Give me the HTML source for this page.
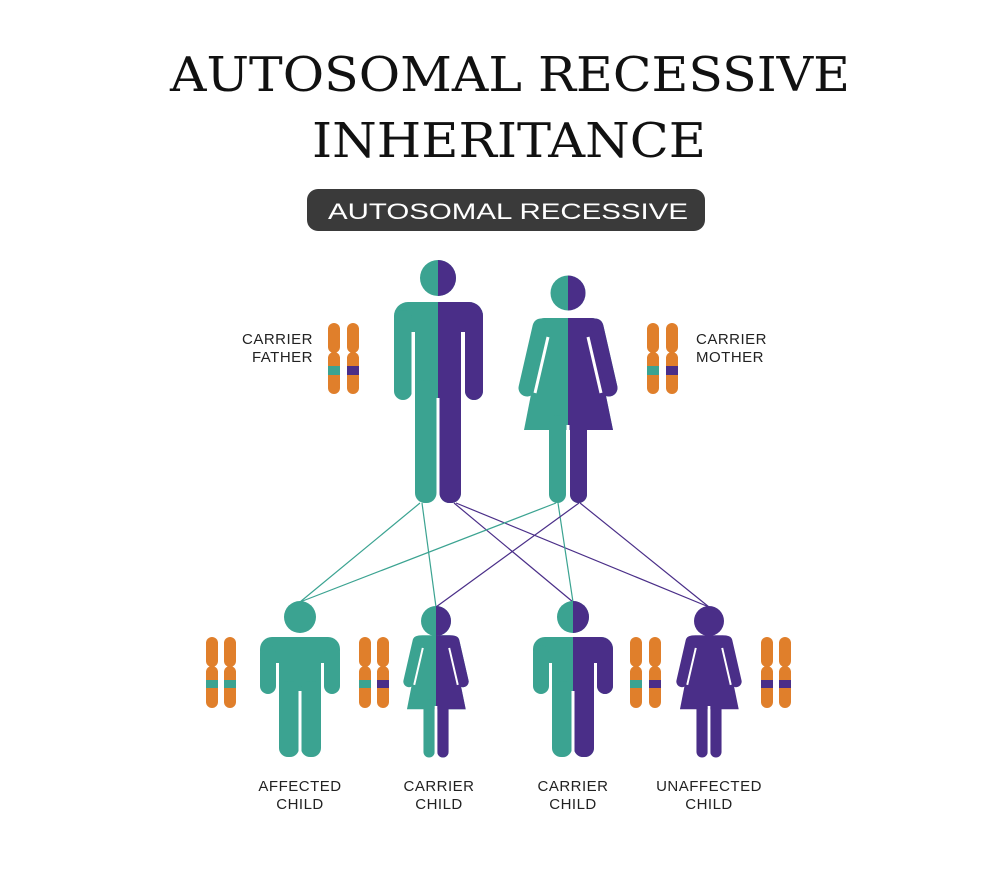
<!DOCTYPE html>
<html><head><meta charset="utf-8"><style>
html,body{margin:0;padding:0;background:#fff;}
svg{display:block;}
</style></head><body>
<svg width="1000" height="880" viewBox="0 0 1000 880" xmlns="http://www.w3.org/2000/svg">
<defs>
  <g id="man">
    <circle cx="0" cy="18" r="18"/>
    <rect x="-44" y="42" width="89" height="30" rx="14"/>
    <rect x="-44" y="50" width="18" height="90" rx="9"/>
    <rect x="27" y="50" width="18" height="90" rx="9"/>
    <rect x="-23" y="50" width="46" height="90"/>
    <rect x="-23" y="120" width="21.5" height="123" rx="10"/>
    <rect x="1.5" y="120" width="21.5" height="123" rx="10"/>
  </g>
  <g id="boy">
    <circle cx="0" cy="16" r="16"/>
    <rect x="-40" y="36" width="80" height="26" rx="12"/>
    <rect x="-40" y="44" width="16" height="49" rx="8"/>
    <rect x="24" y="44" width="16" height="49" rx="8"/>
    <rect x="-21" y="44" width="42" height="56"/>
    <rect x="-21" y="80" width="20" height="76" rx="9"/>
    <rect x="1" y="80" width="20" height="76" rx="9"/>
  </g>
  <g id="wbody">
    <rect x="-34" y="43" width="68" height="20" rx="10"/>
    <line x1="-27" y1="52" x2="-41" y2="113" stroke-width="17" stroke-linecap="round" stroke="currentColor"/>
    <line x1="27" y1="52" x2="41" y2="113" stroke-width="17" stroke-linecap="round" stroke="currentColor"/>
    <polygon points="-22,43 22,43 45,155 -44,155"/>
    <rect x="-19" y="140" width="17" height="88" rx="8.5"/>
    <rect x="2" y="140" width="17" height="88" rx="8.5"/>
  </g>
  <g id="woman">
    <circle cx="0" cy="18" r="17.5"/>
    <use href="#wbody"/>
  </g>
  <g id="wgap" stroke="#fff" stroke-width="3">
    <line x1="-20" y1="62" x2="-33" y2="118"/>
    <line x1="20" y1="62" x2="33" y2="118"/>
  </g>
  <g id="mgap" stroke="#fff" stroke-width="3">
    <line x1="-25" y1="72" x2="-25" y2="140"/>
    <line x1="25" y1="72" x2="25" y2="140"/>
    <line x1="0" y1="138" x2="0" y2="245"/>
  </g>
  <g id="bgap" stroke="#fff" stroke-width="3">
    <line x1="-22.5" y1="62" x2="-22.5" y2="94"/>
    <line x1="22.5" y1="62" x2="22.5" y2="94"/>
    <line x1="0" y1="90" x2="0" y2="158"/>
  </g>
  <clipPath id="rh"><rect x="0" y="-10" width="200" height="300"/></clipPath>
  <g id="chromL">
    <rect x="0" y="0" width="12" height="30" rx="6"/>
    <rect x="0" y="29" width="12" height="42" rx="6"/>
  </g>
</defs>

<!-- Title -->
<text x="510" y="91" font-family="DejaVu Serif, serif" font-size="48" textLength="680" lengthAdjust="spacingAndGlyphs" text-anchor="middle" fill="#111">AUTOSOMAL RECESSIVE</text>
<text x="509" y="157" font-family="DejaVu Serif, serif" font-size="48" textLength="394" lengthAdjust="spacingAndGlyphs" text-anchor="middle" fill="#111">INHERITANCE</text>
<rect x="307" y="189" width="398" height="42" rx="11" fill="#3a3a3a"/>
<text x="508" y="219" font-family="Liberation Sans, sans-serif" font-size="22" textLength="360" lengthAdjust="spacingAndGlyphs" text-anchor="middle" fill="#fff">AUTOSOMAL RECESSIVE</text>

<!-- Lines -->
<g stroke-width="1.2" fill="none">
  <line x1="420" y1="503" x2="300" y2="602" stroke="#3ba391"/>
  <line x1="422" y1="503" x2="436" y2="607" stroke="#3ba391"/>
  <line x1="454" y1="503" x2="573" y2="602" stroke="#4a2e88"/>
  <line x1="456" y1="503" x2="709" y2="607" stroke="#4a2e88"/>
  <line x1="556" y1="503" x2="300" y2="602" stroke="#3ba391"/>
  <line x1="558" y1="503" x2="573" y2="602" stroke="#3ba391"/>
  <line x1="579" y1="503" x2="436" y2="607" stroke="#4a2e88"/>
  <line x1="580" y1="503" x2="709" y2="607" stroke="#4a2e88"/>
</g>

<!-- Father -->
<g transform="translate(438,260)">
  <use href="#man" fill="#3ba391"/>
  <use href="#man" fill="#4a2e88" clip-path="url(#rh)"/>
  <use href="#mgap"/>
</g>
<!-- Mother -->
<g transform="translate(568,275)">
  <use href="#woman" fill="#3ba391" style="color:#3ba391"/>
  <use href="#woman" fill="#4a2e88" style="color:#4a2e88" clip-path="url(#rh)"/>
  <use href="#wgap"/>
  <line x1="0" y1="150" x2="0" y2="230" stroke="#fff" stroke-width="3"/>
</g>
<!-- Affected boy -->
<g transform="translate(300,601)">
  <use href="#boy" fill="#3ba391"/>
  <use href="#bgap"/>
</g>
<!-- Carrier girl -->
<g transform="translate(436,607) scale(0.66)">
  <use href="#wbody" fill="#3ba391" style="color:#3ba391"/>
  <use href="#wbody" fill="#4a2e88" style="color:#4a2e88" clip-path="url(#rh)"/>
  <use href="#wgap"/>
  <line x1="0" y1="150" x2="0" y2="235" stroke="#fff" stroke-width="4"/>
</g>
<circle cx="436" cy="621" r="15" fill="#3ba391"/>
<path d="M436,606 A15,15 0 0 1 436,636 Z" fill="#4a2e88"/>
<!-- Carrier boy -->
<g transform="translate(573,601)">
  <use href="#boy" fill="#3ba391"/>
  <use href="#boy" fill="#4a2e88" clip-path="url(#rh)"/>
  <use href="#bgap"/>
</g>
<!-- Unaffected girl -->
<g transform="translate(709,607) scale(0.66)">
  <use href="#wbody" fill="#4a2e88" style="color:#4a2e88"/>
  <use href="#wgap"/>
  <line x1="0" y1="150" x2="0" y2="235" stroke="#fff" stroke-width="4"/>
</g>
<circle cx="709" cy="621" r="15" fill="#4a2e88"/>

<!-- Chromosomes -->
<g fill="#e07f2b">
  <g transform="translate(328,323)"><use href="#chromL"/><rect y="43" width="12" height="9" fill="#3ba391"/></g>
  <g transform="translate(347,323)"><use href="#chromL"/><rect y="43" width="12" height="9" fill="#4a2e88"/></g>
  <g transform="translate(647,323)"><use href="#chromL"/><rect y="43" width="12" height="9" fill="#3ba391"/></g>
  <g transform="translate(666,323)"><use href="#chromL"/><rect y="43" width="12" height="9" fill="#4a2e88"/></g>

  <g transform="translate(206,637)"><use href="#chromL"/><rect y="43" width="12" height="8" fill="#3ba391"/></g>
  <g transform="translate(224,637)"><use href="#chromL"/><rect y="43" width="12" height="8" fill="#3ba391"/></g>
  <g transform="translate(359,637)"><use href="#chromL"/><rect y="43" width="12" height="8" fill="#3ba391"/></g>
  <g transform="translate(377,637)"><use href="#chromL"/><rect y="43" width="12" height="8" fill="#4a2e88"/></g>
  <g transform="translate(630,637)"><use href="#chromL"/><rect y="43" width="12" height="8" fill="#3ba391"/></g>
  <g transform="translate(649,637)"><use href="#chromL"/><rect y="43" width="12" height="8" fill="#4a2e88"/></g>
  <g transform="translate(761,637)"><use href="#chromL"/><rect y="43" width="12" height="8" fill="#4a2e88"/></g>
  <g transform="translate(779,637)"><use href="#chromL"/><rect y="43" width="12" height="8" fill="#4a2e88"/></g>
</g>

<!-- Labels -->
<g font-family="Liberation Sans, sans-serif" font-size="15" fill="#222" letter-spacing="0.5">
  <text x="313" y="344" text-anchor="end">CARRIER</text>
  <text x="313" y="362" text-anchor="end">FATHER</text>
  <text x="696" y="344">CARRIER</text>
  <text x="696" y="362">MOTHER</text>
  <text x="300" y="791" text-anchor="middle">AFFECTED</text>
  <text x="300" y="809" text-anchor="middle">CHILD</text>
  <text x="439" y="791" text-anchor="middle">CARRIER</text>
  <text x="439" y="809" text-anchor="middle">CHILD</text>
  <text x="573" y="791" text-anchor="middle">CARRIER</text>
  <text x="573" y="809" text-anchor="middle">CHILD</text>
  <text x="709" y="791" text-anchor="middle">UNAFFECTED</text>
  <text x="709" y="809" text-anchor="middle">CHILD</text>
</g>
</svg>
</body></html>
